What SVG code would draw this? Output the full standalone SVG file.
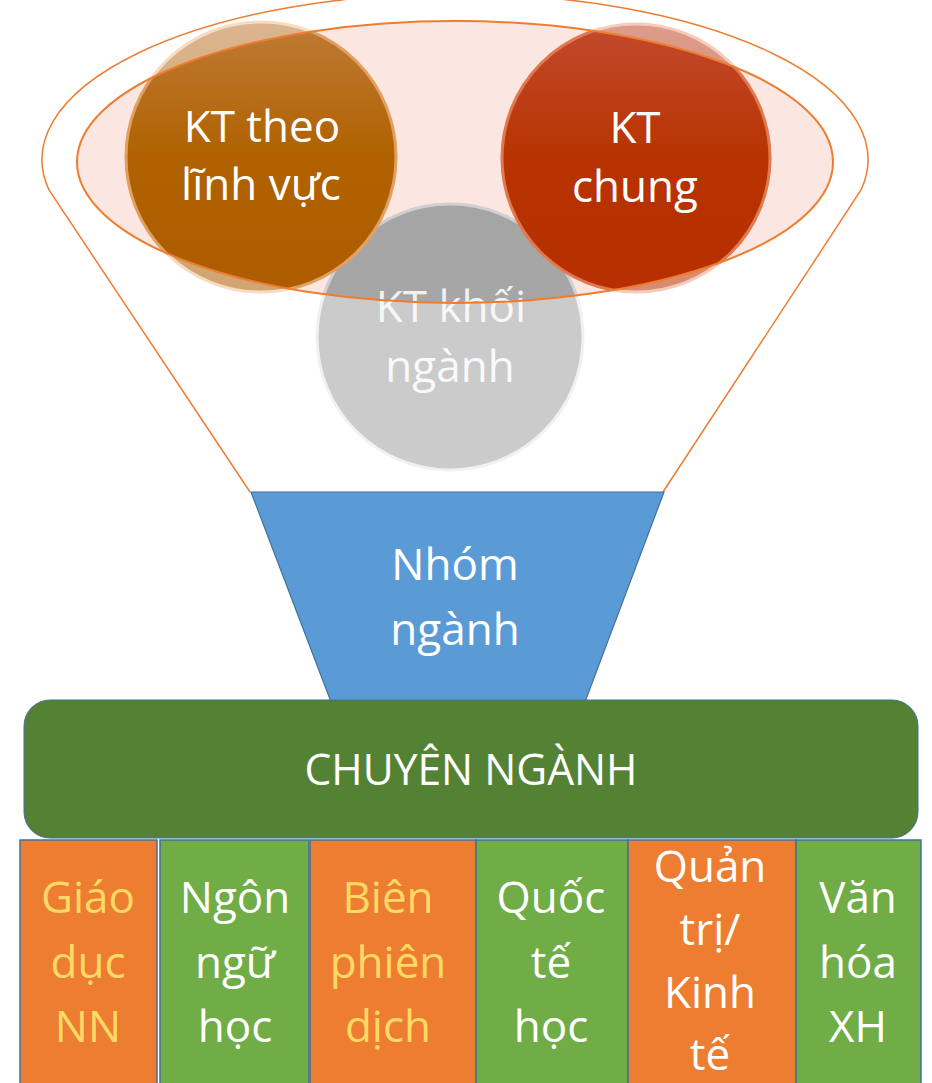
<svg xmlns="http://www.w3.org/2000/svg" width="932" height="1083" viewBox="0 0 932 1083">
<style>
.t{font-family:"Open Sans","Noto Sans","Liberation Sans",sans-serif;font-size:44px;text-anchor:middle;fill:#ffffff}
.y{fill:#ffd966}
.box{stroke:#41719c;stroke-width:1.5}
.or{fill:#ed7d31}
.gr{fill:#70ad47}
</style>
<defs>
<linearGradient id="gBrown" x1="0" y1="0" x2="0" y2="1">
<stop offset="0" stop-color="#bf7a36"/><stop offset="0.5" stop-color="#b06200"/><stop offset="1" stop-color="#ad5c00"/>
</linearGradient>
<linearGradient id="gRed" x1="0" y1="0" x2="0" y2="1">
<stop offset="0" stop-color="#c24a2e"/><stop offset="0.5" stop-color="#b83300"/><stop offset="1" stop-color="#b72f00"/>
</linearGradient>
<linearGradient id="gGray" x1="0" y1="0" x2="0" y2="1">
<stop offset="0" stop-color="#a5a5a5"/><stop offset="1" stop-color="#a8a8a8"/>
</linearGradient>
<clipPath id="inEll"><ellipse cx="455" cy="162" rx="378" ry="141"/></clipPath>
</defs>

<g id="funnel-outline">
<path d="M250 492 L49 190 A413 166 0 1 1 861 190 L663 492" fill="none" stroke="#ed7d31" stroke-width="1.5"/>
</g>

<g id="rim-fill">
<ellipse cx="455" cy="162" rx="378" ry="141" fill="#fbe6e1"/>
</g>

<g id="node-kt-khoi-nganh">
<g opacity="0.58">
<circle cx="450" cy="337" r="133" fill="url(#gGray)" stroke="#e8e8e8" stroke-width="3"/>
</g>
<g clip-path="url(#inEll)">
<circle cx="450" cy="337" r="133" fill="url(#gGray)" stroke="#d0d0d0" stroke-width="3"/>
</g>
<text class="t" x="451" y="322" opacity="0.85">KT khối</text>
<text class="t" x="450" y="382" opacity="0.9">ngành</text>
</g>

<g id="node-kt-theo-linh-vuc">
<g opacity="0.55">
<circle cx="261" cy="157" r="135" fill="url(#gBrown)" stroke="#f0c090" stroke-width="3"/>
</g>
<g clip-path="url(#inEll)">
<circle cx="261" cy="157" r="135" fill="url(#gBrown)" stroke="#e2a060" stroke-width="3"/>
</g>
<text class="t" x="262" y="142">KT theo</text>
<text class="t" x="261" y="200">lĩnh vực</text>
</g>

<g id="node-kt-chung">
<g opacity="0.55">
<circle cx="636" cy="158" r="134" fill="url(#gRed)" stroke="#f0a080" stroke-width="3"/>
</g>
<g clip-path="url(#inEll)">
<circle cx="636" cy="158" r="134" fill="url(#gRed)" stroke="#e07850" stroke-width="3"/>
</g>
<text class="t" x="635" y="143">KT</text>
<text class="t" x="635" y="202">chung</text>
</g>

<g id="rim-stroke">
<ellipse cx="455" cy="162" rx="378" ry="141" fill="none" stroke="#ed7d31" stroke-width="2"/>
</g>

<g id="node-nhom-nganh">
<path d="M251 492 L664 492 L585 702 L331 702 Z" fill="#5b9bd5" stroke="#41719c" stroke-width="1.2"/>
<text class="t" x="455" y="580">Nhóm</text>
<text class="t" x="455" y="645">ngành</text>
</g>

<g id="node-chuyen-nganh">
<rect x="24" y="700" width="894" height="138" rx="26" fill="#548235" stroke="#41719c" stroke-width="1"/>
<text class="t" x="471" y="785" textLength="333" lengthAdjust="spacingAndGlyphs">CHUYÊN NGÀNH</text>
</g>

<g id="node-giao-duc">
<rect class="box or" x="20" y="840" width="137" height="250"/>
<text class="t y" x="88" y="913">Giáo</text>
<text class="t y" x="88" y="978">dục</text>
<text class="t y" x="88" y="1042">NN</text>
</g>

<g id="node-ngon-ngu">
<rect class="box gr" x="160" y="840" width="149" height="250"/>
<text class="t" x="235" y="913">Ngôn</text>
<text class="t" x="235" y="978">ngữ</text>
<text class="t" x="235" y="1042">học</text>
</g>

<g id="node-bien-phien">
<rect class="box or" x="310" y="840" width="166" height="250"/>
<text class="t y" x="388" y="913">Biên</text>
<text class="t y" x="388" y="978">phiên</text>
<text class="t y" x="388" y="1042">dịch</text>
</g>

<g id="node-quoc-te">
<rect class="box gr" x="476" y="840" width="152" height="250"/>
<text class="t" x="551" y="913">Quốc</text>
<text class="t" x="551" y="978">tế</text>
<text class="t" x="551" y="1042">học</text>
</g>

<g id="node-quan-tri">
<rect class="box or" x="628" y="840" width="168" height="250"/>
<text class="t" x="710" y="882">Quản</text>
<text class="t" x="710" y="945">trị/</text>
<text class="t" x="710" y="1008">Kinh</text>
<text class="t" x="710" y="1070">tế</text>
</g>

<g id="node-van-hoa">
<rect class="box gr" x="796" y="840" width="125" height="250"/>
<text class="t" x="858" y="913">Văn</text>
<text class="t" x="858" y="978">hóa</text>
<text class="t" x="858" y="1042">XH</text>
</g>

<g id="connectors"></g>
</svg>
